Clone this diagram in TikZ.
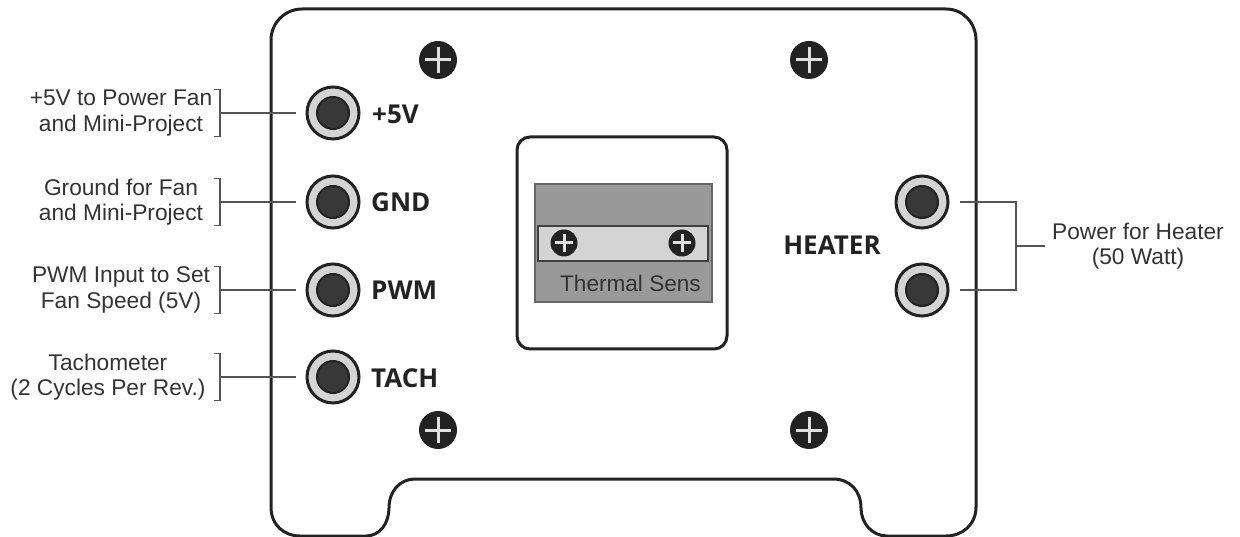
\documentclass[tikz,border=0pt]{standalone}
\usepackage{fontspec}
\setmainfont{Liberation Sans}
\newfontfamily\boldlab{Open Sans}
\definecolor{ink}{HTML}{222222}
\definecolor{txt}{HTML}{333333}
\definecolor{wire}{HTML}{555555}
\tikzset{
  board/.style={draw=ink,line width=3pt,fill=white,line join=round},
  jackring/.style={circle,draw=ink,line width=3pt,fill=black!17,minimum size=52pt,inner sep=0pt},
  jackcore/.style={circle,draw=ink,line width=2pt,fill=black!78,minimum size=32pt,inner sep=0pt},
  screwhead/.style={circle,fill=ink,minimum size=38pt,inner sep=0pt},
  screwsmall/.style={circle,fill=ink,minimum size=27pt,inner sep=0pt},
  plusbar/.style={draw=black!12,line width=3pt},
  wireline/.style={draw=wire,line width=1.2pt},
  note/.style={font=\fontsize{22.7}{25.5}\selectfont,text=txt,align=center,inner sep=0pt},
  jacklabel/.style={font=\boldlab\bfseries\fontsize{26}{30}\selectfont,text=ink,anchor=west,inner sep=0pt}
}
\newcommand{\plusmark}[2]{\draw[plusbar] ([xshift=-#2pt]#1.center) -- ([xshift=#2pt]#1.center) ([yshift=-#2pt]#1.center) -- ([yshift=#2pt]#1.center);}
\begin{document}
\begin{tikzpicture}[x=1pt,y=-1pt]
\useasboundingbox (0,0) rectangle (1240,537);
% board outline
\path[board] (271,507) -- (271,40) .. controls (271,23) and (285,9) .. (302,9) -- (946,9)
  .. controls (963,9) and (976,23) .. (976,40) -- (976,507)
  .. controls (976,525) and (962,536) .. (946,536) -- (887,536)
  .. controls (872,536) and (861,523) .. (861,508)
  .. controls (861,491) and (850,479) .. (833,479) -- (415,479)
  .. controls (400,479) and (389,491) .. (389,508)
  .. controls (389,523) and (380,536) .. (366,536) -- (300,536)
  .. controls (284,536) and (271,525) .. (271,507) -- cycle;
% screws
\foreach \n/\x/\y in {sa/438/60,sb/809/60,sc/438/430,sd/809/430}{
  \node[screwhead] (\n) at (\x,\y) {};
  \plusmark{\n}{13}
}
% sensor
\path[draw=ink,line width=3pt,fill=white,rounded corners=13pt] (517,137) rectangle (727,349);
\path[draw=black!60,line width=1.2pt,fill=black!40] (535,184) rectangle (712,302);
\path[draw=black!75,line width=1.2pt,fill=black!17] (538,226) rectangle (708,261);
\foreach \n/\x in {ta/564,tb/682}{
  \node[screwsmall] (\n) at (\x,243) {};
  \plusmark{\n}{9}
}
\node[font=\fontsize{22.6}{26}\selectfont,text=txt,anchor=east,inner sep=0pt] (thermal) at (701,283) {Thermal Sens};
% jacks
\foreach \n/\x/\y in {ja/333/113,jb/333/202,jc/333/290,jd/333/377,he/922/202,hf/922/290}{
  \node[jackring] (\n) at (\x,\y) {};
  \node[jackcore] (\n c) at (\n) {};
}
\node[jacklabel] (la) at (372,114) {+5V};
\node[jacklabel] (lb) at (371,202) {GND};
\node[jacklabel] (lc) at (371,290) {PWM};
\node[jacklabel] (ld) at (371,378) {TACH};
\node[jacklabel,anchor=center] (lh) at (832,245) {HEATER};
% left notes
\node[note] (na) at (121,113) {+5V to Power Fan\\and Mini-Project};
\node[note] (nb) at (121,202) {Ground for Fan\\and Mini-Project};
\node[note] (nc) at (121,290) {PWM Input to Set\\Fan Speed (5V)};
\node[note] (nd) at (108,377) {Tachometer\\(2 Cycles Per Rev.)};
% brackets and connectors
\foreach \b/\j/\y in {ba/ja/113,bb/jb/202,bc/jc/290,bd/jd/377}{
  \coordinate (\b) at (220,\y);
  \draw[wireline] ([xshift=-6pt,yshift=-23.5pt]\b) -- ([yshift=-23.5pt]\b) -- ([yshift=23.5pt]\b) -- ([xshift=-6pt,yshift=23.5pt]\b);
  \draw[wireline] (\b) -- ([xshift=-10pt]\j.west);
}
% heater note
\node[note] (nh) at (1138,246) {Power for Heater\\(50 Watt)};
\coordinate (hj) at (1016,246);
\draw[wireline] ([xshift=10pt]he.east) -| (hj);
\draw[wireline] ([xshift=10pt]hf.east) -| (hj);
\draw[wireline] (hj) -- ([xshift=-7pt]nh.west |- hj);
\end{tikzpicture}
\end{document}
